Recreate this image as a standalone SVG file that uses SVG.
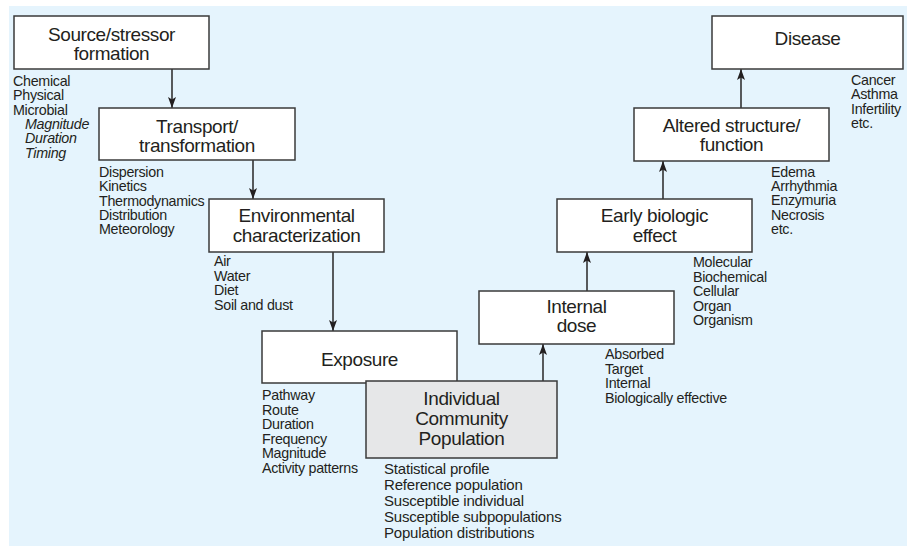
<svg xmlns="http://www.w3.org/2000/svg" width="907" height="546" viewBox="0 0 907 546">
<style>
.box{fill:#fff;stroke:#3a3a3a;stroke-width:1.5}
.gray{fill:#e6e7e8}
.t{font-family:"Liberation Sans",Arial,sans-serif;font-size:19px;letter-spacing:-0.4px;fill:#231f20;text-anchor:middle}
.s{font-family:"Liberation Sans",Arial,sans-serif;font-size:14.3px;letter-spacing:-0.3px;fill:#231f20}
.s15{font-family:"Liberation Sans",Arial,sans-serif;font-size:15px;letter-spacing:-0.2px;fill:#231f20}
.i{font-style:italic}
.c{stroke:#333;stroke-width:1.6;fill:none;marker-end:url(#ah)}
</style>
<defs>
<marker id="ah" markerUnits="userSpaceOnUse" markerWidth="12" markerHeight="10" refX="11" refY="4.5" orient="auto" viewBox="0 0 12 10">
<path d="M0,0.5 L11,4.5 L0,8.5 L2.5,4.5 Z" fill="#231f20"/>
</marker>
</defs>
<rect x="9" y="6" width="898" height="540" fill="#e5f4fd"/>
<g id="connectors">
<line class="c" x1="172" y1="69" x2="172" y2="108"/>
<line class="c" x1="253" y1="160" x2="253" y2="199"/>
<line class="c" x1="333" y1="252" x2="333" y2="331"/>
<line class="c" x1="543" y1="381" x2="543" y2="344"/>
<line class="c" x1="587" y1="291" x2="587" y2="252"/>
<line class="c" x1="663" y1="199" x2="663" y2="161"/>
<line class="c" x1="741" y1="108" x2="741" y2="69"/>
</g>
<g id="source">
<rect class="box" x="14" y="16" width="195" height="53"/>
<text class="t" x="111.5" y="41">Source/stressor</text>
<text class="t" x="111.5" y="60">formation</text>
<text class="s" x="13" y="86">Chemical</text>
<text class="s" x="13" y="100.3">Physical</text>
<text class="s" x="13" y="114.6">Microbial</text>
<text class="s i" x="25" y="128.9">Magnitude</text>
<text class="s i" x="25" y="143.2">Duration</text>
<text class="s i" x="25" y="157.5">Timing</text>
</g>
<g id="transport">
<rect class="box" x="99" y="108" width="196" height="52"/>
<text class="t" x="197" y="133">Transport/</text>
<text class="t" x="197" y="152">transformation</text>
<text class="s" x="99" y="177">Dispersion</text>
<text class="s" x="99" y="191.3">Kinetics</text>
<text class="s" x="99" y="205.6">Thermodynamics</text>
<text class="s" x="99" y="219.9">Distribution</text>
<text class="s" x="99" y="234.2">Meteorology</text>
</g>
<g id="environmental">
<rect class="box" x="209" y="199" width="175" height="53"/>
<text class="t" x="296.5" y="222">Environmental</text>
<text class="t" x="296.5" y="242">characterization</text>
<text class="s" x="214" y="266">Air</text>
<text class="s" x="214" y="280.5">Water</text>
<text class="s" x="214" y="295">Diet</text>
<text class="s" x="214" y="309.5">Soil and dust</text>
</g>
<g id="exposure">
<rect class="box" x="262" y="331" width="195" height="52"/>
<text class="t" x="359.5" y="366">Exposure</text>
<text class="s" x="262" y="400">Pathway</text>
<text class="s" x="262" y="414.5">Route</text>
<text class="s" x="262" y="429">Duration</text>
<text class="s" x="262" y="443.5">Frequency</text>
<text class="s" x="262" y="458">Magnitude</text>
<text class="s" x="262" y="472.5">Activity patterns</text>
</g>
<g id="population">
<rect class="box gray" x="366" y="381" width="191" height="77"/>
<text class="t" x="461.5" y="405">Individual</text>
<text class="t" x="461.5" y="425">Community</text>
<text class="t" x="461.5" y="445">Population</text>
<text class="s15" x="384" y="474">Statistical profile</text>
<text class="s15" x="384" y="490">Reference population</text>
<text class="s15" x="384" y="506">Susceptible individual</text>
<text class="s15" x="384" y="522">Susceptible subpopulations</text>
<text class="s15" x="384" y="538">Population distributions</text>
</g>
<g id="internal-dose">
<rect class="box" x="479" y="291" width="195" height="53"/>
<text class="t" x="576.5" y="313">Internal</text>
<text class="t" x="576.5" y="332">dose</text>
<text class="s" x="605" y="359">Absorbed</text>
<text class="s" x="605" y="373.5">Target</text>
<text class="s" x="605" y="388">Internal</text>
<text class="s" x="605" y="402.5">Biologically effective</text>
</g>
<g id="early-effect">
<rect class="box" x="557" y="199" width="195" height="53"/>
<text class="t" x="654.5" y="222">Early biologic</text>
<text class="t" x="654.5" y="242">effect</text>
<text class="s" x="693" y="267">Molecular</text>
<text class="s" x="693" y="281.5">Biochemical</text>
<text class="s" x="693" y="296">Cellular</text>
<text class="s" x="693" y="310.5">Organ</text>
<text class="s" x="693" y="325">Organism</text>
</g>
<g id="altered">
<rect class="box" x="634" y="108" width="195" height="53"/>
<text class="t" x="731.5" y="132">Altered structure/</text>
<text class="t" x="731.5" y="151">function</text>
<text class="s" x="771" y="177">Edema</text>
<text class="s" x="771" y="191.2">Arrhythmia</text>
<text class="s" x="771" y="205.4">Enzymuria</text>
<text class="s" x="771" y="219.6">Necrosis</text>
<text class="s" x="771" y="233.8">etc.</text>
</g>
<g id="disease">
<rect class="box" x="712" y="16" width="191" height="53"/>
<text class="t" x="807.5" y="45">Disease</text>
<text class="s" x="851" y="85">Cancer</text>
<text class="s" x="851" y="99.3">Asthma</text>
<text class="s" x="851" y="113.6">Infertility</text>
<text class="s" x="851" y="127.9">etc.</text>
</g>
</svg>
